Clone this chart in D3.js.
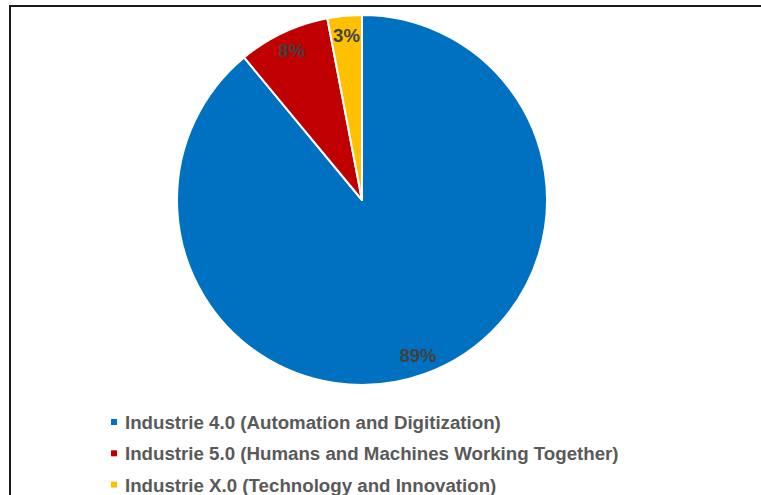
<!DOCTYPE html>
<html>
<head>
<meta charset="utf-8">
<script src="https://cdn.jsdelivr.net/npm/d3@7"></script>
<style>
  html, body { margin: 0; padding: 0; background: #fff; }
  svg { display: block; }
  text { font-family: "Liberation Sans", Arial, sans-serif; font-weight: bold; }
</style>
</head>
<body>
<svg id="chart" width="761" height="495"></svg>
<script>
// Share of each industrial paradigm (percent)
const categories = [
  "Industrie 4.0 (Automation and Digitization)",
  "Industrie 5.0 (Humans and Machines Working Together)",
  "Industrie X.0 (Technology and Innovation)"
];
const values = [89, 8, 3];
const colors = ["#0070C0", "#C00000", "#FFC000"];

const width = 761, height = 495;
const cx = 362, cy = 200, radius = 185, labelRadius = 165;

const svg = d3.select("#chart");

// Frame (only top and left edges fall inside the view)
svg.append("rect")
  .attr("x", 10).attr("y", 6)
  .attr("width", 900).attr("height", 700)
  .attr("fill", "none")
  .attr("stroke", "#1a1a1a")
  .attr("stroke-width", 2);

const data = categories.map((c, i) => ({ name: c, value: values[i], color: colors[i] }));

const pie = d3.pie().sort(null).value(d => d.value);
const arcs = pie(data);

const arc = d3.arc().innerRadius(0).outerRadius(radius);
const labelArc = d3.arc().innerRadius(labelRadius).outerRadius(labelRadius);

const g = svg.append("g").attr("transform", `translate(${cx},${cy})`);

g.selectAll("path.slice")
  .data(arcs)
  .join("path")
  .attr("class", "slice")
  .attr("d", arc)
  .attr("fill", d => d.data.color)
  .attr("stroke", "#fff")
  .attr("stroke-width", 2)
  .attr("stroke-linejoin", "round");

g.selectAll("text.pct")
  .data(arcs)
  .join("text")
  .attr("class", "pct")
  .attr("transform", d => `translate(${labelArc.centroid(d)})`)
  .attr("text-anchor", "middle")
  .attr("dominant-baseline", "central")
  .attr("font-size", 18.5)
  .attr("fill", "#404040")
  .text(d => d.data.value + "%");

// Legend
const legendX = 111, legendY0 = 429, legendStep = 31.3;
const legend = svg.append("g");
const rows = legend.selectAll("g.row")
  .data(data)
  .join("g")
  .attr("class", "row")
  .attr("transform", (d, i) => `translate(${legendX},${legendY0 + i * legendStep})`);

rows.append("rect")
  .attr("x", 0).attr("y", -10)
  .attr("width", 6).attr("height", 6)
  .attr("fill", d => d.color);

rows.append("text")
  .attr("x", 14).attr("y", 0)
  .attr("font-size", 18.7)
  .attr("fill", "#595959")
  .text(d => d.name);
</script>
</body>
</html>
